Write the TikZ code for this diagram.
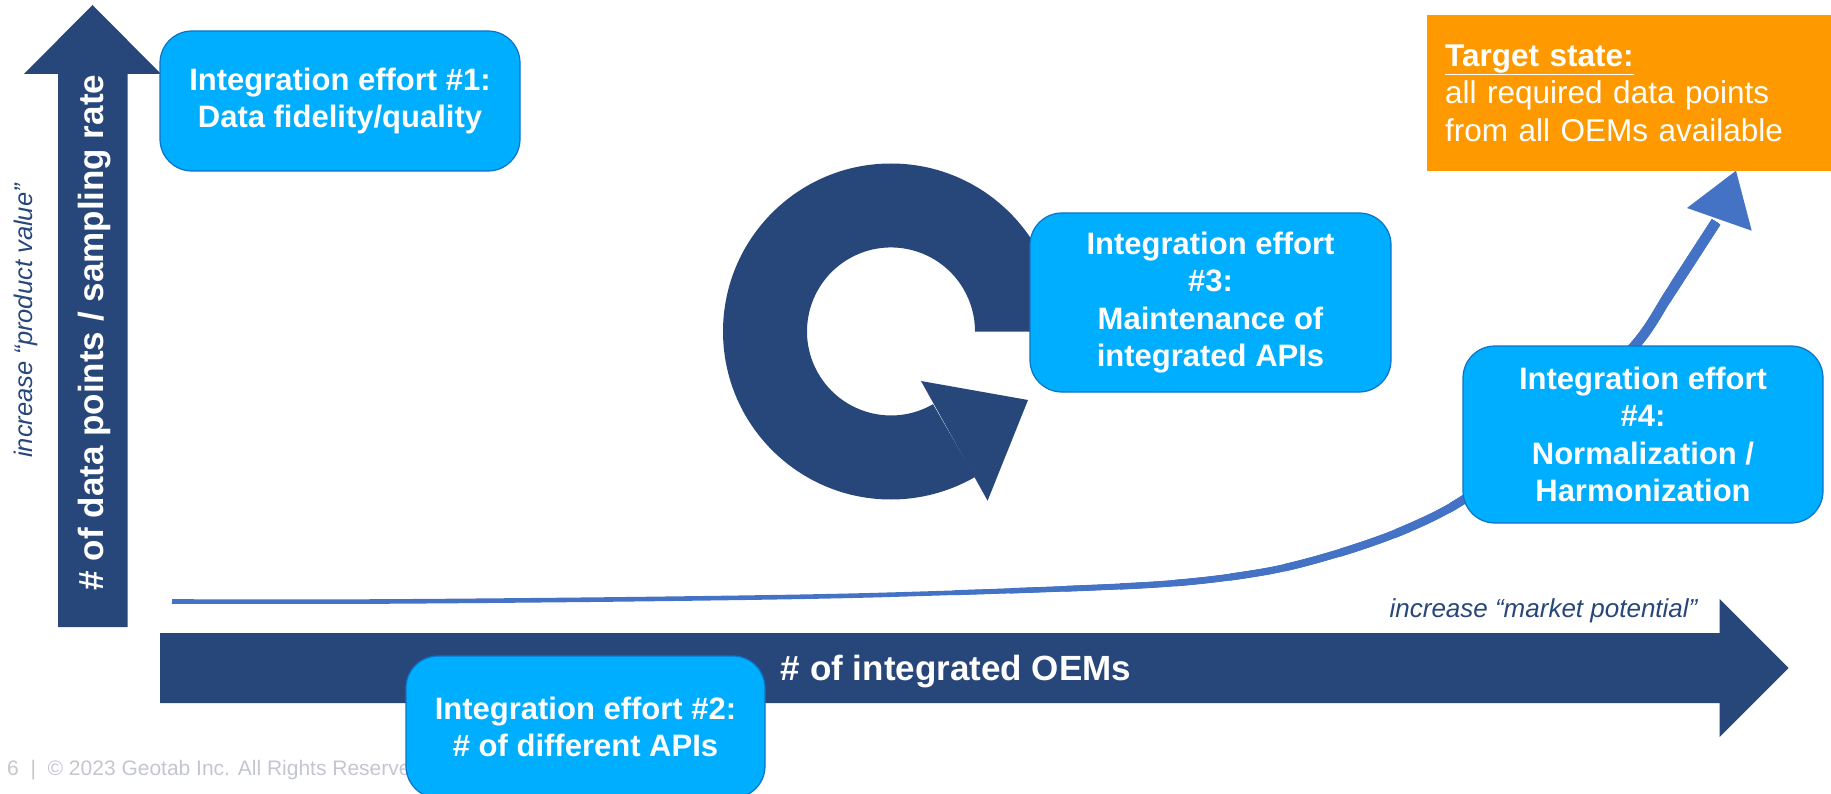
\documentclass[tikz,border=0pt]{standalone}
\usepackage{fontspec}
\setmainfont{Liberation Sans}
\definecolor{navy}{HTML}{27477A}
\definecolor{boxfill}{HTML}{00AEFF}
\definecolor{boxline}{HTML}{0D72C6}
\definecolor{curvec}{HTML}{4472C4}
\definecolor{targetc}{HTML}{FF9900}
\definecolor{footerc}{HTML}{C3C6CE}
\begin{document}
\begin{tikzpicture}[x=1pt,y=-1pt,
  effort/.style={draw=boxline, line width=1.2pt, fill=boxfill, rounded corners=32pt,
    text=white, font=\bfseries\fontsize{31}{37.5}\selectfont, align=center, inner sep=0pt},
  axislabel/.style={text=white, font=\bfseries\fontsize{35}{42}\selectfont, inner sep=0pt},
  inclabel/.style={text=navy, font=\itshape\fontsize{26}{30}\selectfont, inner sep=0pt}
  ]
\useasboundingbox (0,0) rectangle (1831,794);
% vertical axis arrow
\fill[navy] (58,627) -- (58,74) -- (24,74) -- (92.5,5) -- (161,74) -- (127.5,74) -- (127.5,627) -- cycle;
% horizontal axis arrow
\fill[navy] (160,633) -- (1719.6,633) -- (1719.6,599) -- (1788.6,668) -- (1719.6,737) -- (1719.6,703) -- (160,703) -- cycle;
% footer
\node[text=footerc, font=\fontsize{21}{25}\selectfont, anchor=base west, inner sep=0pt] (footer) at (7,775) {6 \ |\ \ © 2023 Geotab Inc. All Rights Reserved.};
% growth curve (tapering from thin to thick)
\def\curvepts{(172,601.5) (380,601.5) (650,599) (880,595) (1148,585) (1263,572) (1339,553) (1404,530) (1466,498) (1560,425) (1637,343) (1670,293) (1716,222)}
\draw[curvec, line width=4.6pt] plot[smooth, tension=0.5] coordinates {\curvepts};
\foreach \i in {1,...,14} {
  \pgfmathsetmacro{\xs}{900+\i*55}
  \pgfmathsetmacro{\w}{4.6+\i*0.42}
  \begin{scope}
    \clip (\xs,0) rectangle (1831,794);
    \draw[curvec, line width=\w pt] plot[smooth, tension=0.5] coordinates {\curvepts};
  \end{scope}
}
\fill[curvec] (1687,208) -- (1736,170.7) -- (1751.7,230.7) -- cycle;
% cycle arrow
\fill[navy] (975,331.5) -- (1059,331.5) arc[start angle=0, end angle=-300, radius=168]
  -- (933,404.2) arc[start angle=-300, end angle=0, radius=84] -- cycle;
\fill[navy] (921,381) -- (1028,400) -- (987.6,500.7) -- cycle;
% effort boxes
\node[effort, minimum width=360pt, minimum height=140pt] (e1) at (340,101) {Integration effort \#1:\\Data fidelity/quality};
\node[effort, minimum width=359pt, minimum height=142pt] (e2) at (585.5,727) {Integration effort \#2:\\\# of different APIs};
\node[effort, minimum width=361pt, minimum height=179pt] (e3) at (1210.5,302.5) {Integration effort\\\#3:\\Maintenance of\\integrated APIs};
\node[effort, minimum width=360pt, minimum height=177pt] (e4) at (1643,434.5) {Integration effort\\\#4:\\Normalization /\\Harmonization};
% target
\node[fill=targetc, anchor=north west, minimum width=404pt, minimum height=156pt, text width=368pt,
  inner xsep=18pt, inner ysep=0pt, align=left, text=white, font=\fontsize{31.5}{37.6}\selectfont]
  (target) at (1427,15) {\textbf{\underline{Target state:}}\\all required data points\\from all OEMs available};
% axis labels
\node[axislabel, rotate=90, anchor=base] (ylabel) at (103,332.5) {\# of data points / sampling rate};
\node[axislabel, anchor=base] (xlabel) at (956,680.7) {\# of integrated OEMs};
\node[inclabel, rotate=90, anchor=base, font=\itshape\fontsize{25.5}{30}\selectfont] (yinc) at (32,321) {increase “product value”};
\node[inclabel, anchor=base] (xinc) at (1543.5,617) {increase “market potential”};
\end{tikzpicture}
\end{document}
